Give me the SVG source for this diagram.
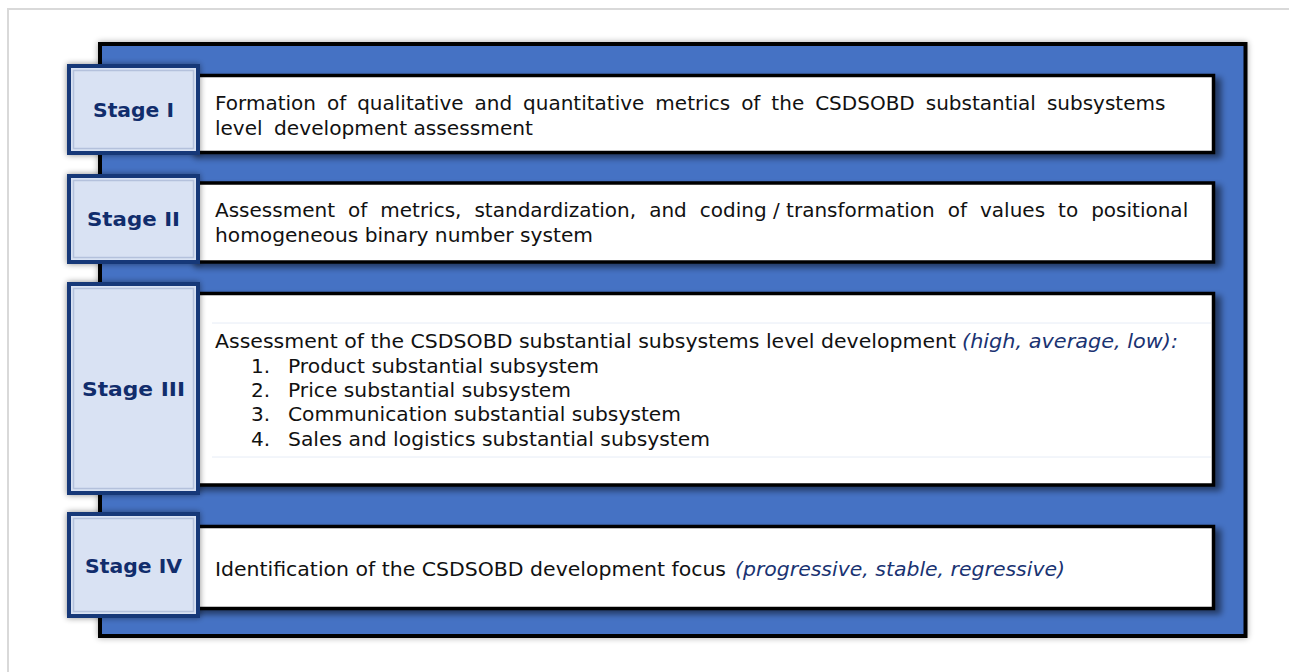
<svg xmlns="http://www.w3.org/2000/svg" width="1289" height="672" viewBox="0 0 1289 672">
  <defs>
    <style>
      .frame { fill: none; stroke: #d9d9d9; stroke-width: 2; }
      .panel { fill: #4472c4; stroke: #000; stroke-width: 4; }
      .card { fill: #fff; stroke: #000; stroke-width: 3.5; }
      .stage { fill: #d9e2f3; stroke: #163878; stroke-width: 4; }
      .stage-inner { fill: none; stroke: #b4c1dc; stroke-width: 1.5; }
      .label { font-family: "DejaVu Sans", Verdana, sans-serif; font-size: 20px; font-weight: bold; fill: #112d6c; text-anchor: middle; }
      .body { font-family: "DejaVu Sans", Verdana, sans-serif; font-size: 20px; fill: #111; }
      .em { font-style: italic; fill: #1a3372; }
      .rule { stroke: #e6ecf6; stroke-width: 1; }
    </style>
    <filter id="glow" x="-5%" y="-5%" width="110%" height="110%">
      <feGaussianBlur in="SourceAlpha" stdDeviation="3"/>
      <feComponentTransfer><feFuncA type="linear" slope="0.35"/></feComponentTransfer>
      <feMerge><feMergeNode/><feMergeNode in="SourceGraphic"/></feMerge>
    </filter>
    <filter id="cardShadow" x="-5%" y="-10%" width="112%" height="130%">
      <feGaussianBlur in="SourceAlpha" stdDeviation="3"/>
      <feOffset dx="6" dy="4" result="s"/>
      <feComponentTransfer><feFuncA type="linear" slope="0.5"/></feComponentTransfer>
      <feMerge><feMergeNode/><feMergeNode in="SourceGraphic"/></feMerge>
    </filter>
    <filter id="stageShadow" x="-20%" y="-20%" width="140%" height="140%">
      <feGaussianBlur in="SourceAlpha" stdDeviation="3"/>
      <feComponentTransfer><feFuncA type="linear" slope="0.45"/></feComponentTransfer>
      <feMerge><feMergeNode/><feMergeNode in="SourceGraphic"/></feMerge>
    </filter>
  </defs>

  <!-- page frame -->
  <rect class="frame" x="8" y="9" width="1300" height="680"/>

  <!-- blue backing panel -->
  <rect id="panel" class="panel" x="100" y="44" width="1145.5" height="592" filter="url(#glow)"/>

  <g id="connectors"/>

  <!-- Stage I -->
  <g id="stage1">
    <rect class="card" x="190" y="75.5" width="1023.5" height="77" filter="url(#cardShadow)"/>
    <text class="body" x="215" y="110" word-spacing="4.6">Formation of qualitative and quantitative metrics of the CSDSOBD substantial subsystems</text>
    <text class="body" y="135"><tspan x="215">level</tspan><tspan x="274" textLength="259" lengthAdjust="spacingAndGlyphs">development assessment</tspan></text>
    <g filter="url(#stageShadow)">
      <rect class="stage" x="69" y="66" width="129" height="87"/>
    </g>
    <rect class="stage-inner" x="73.5" y="70.5" width="120" height="78"/>
    <text class="label" x="133.5" y="117" textLength="81" lengthAdjust="spacingAndGlyphs">Stage I</text>
  </g>

  <!-- Stage II -->
  <g id="stage2">
    <rect class="card" x="190" y="183" width="1023.5" height="79" filter="url(#cardShadow)"/>
    <text class="body" x="215" y="217" word-spacing="6.65">Assessment of metrics, standardization, and <tspan word-spacing="0">coding / transformation</tspan> of values to positional</text>
    <text class="body" x="215" y="242" textLength="378" lengthAdjust="spacingAndGlyphs">homogeneous binary number system</text>
    <g filter="url(#stageShadow)">
      <rect class="stage" x="69" y="176" width="129" height="86"/>
    </g>
    <rect class="stage-inner" x="73.5" y="180.5" width="120" height="77"/>
    <text class="label" x="133.5" y="226" textLength="93" lengthAdjust="spacingAndGlyphs">Stage II</text>
  </g>

  <!-- Stage III -->
  <g id="stage3">
    <rect class="card" x="190" y="293.5" width="1023.5" height="191.5" filter="url(#cardShadow)"/>
    <line class="rule" x1="212" y1="323" x2="1211" y2="323"/>
    <line class="rule" x1="212" y1="457" x2="1211" y2="457"/>
    <text class="body" y="348"><tspan x="215" textLength="741" lengthAdjust="spacingAndGlyphs">Assessment of the CSDSOBD substantial subsystems level development</tspan><tspan class="em" x="962" textLength="216" lengthAdjust="spacingAndGlyphs">(high, average, low):</tspan></text>
    <text class="body" y="373"><tspan x="251">1.</tspan><tspan x="288" textLength="311" lengthAdjust="spacingAndGlyphs">Product substantial subsystem</tspan></text>
    <text class="body" y="397"><tspan x="251">2.</tspan><tspan x="288" textLength="283" lengthAdjust="spacingAndGlyphs">Price substantial subsystem</tspan></text>
    <text class="body" y="421"><tspan x="251">3.</tspan><tspan x="288" textLength="393" lengthAdjust="spacingAndGlyphs">Communication substantial subsystem</tspan></text>
    <text class="body" y="446"><tspan x="251">4.</tspan><tspan x="288" textLength="422" lengthAdjust="spacingAndGlyphs">Sales and logistics substantial subsystem</tspan></text>
    <g filter="url(#stageShadow)">
      <rect class="stage" x="69" y="284" width="129" height="209"/>
    </g>
    <rect class="stage-inner" x="73.5" y="288.5" width="120" height="200"/>
    <text class="label" x="133.5" y="396" textLength="103" lengthAdjust="spacingAndGlyphs">Stage III</text>
  </g>

  <!-- Stage IV -->
  <g id="stage4">
    <rect class="card" x="190" y="526.5" width="1023.5" height="82" filter="url(#cardShadow)"/>
    <text class="body" y="576"><tspan x="215" textLength="511" lengthAdjust="spacingAndGlyphs">Identification of the CSDSOBD development focus</tspan><tspan class="em" x="735" textLength="330" lengthAdjust="spacingAndGlyphs">(progressive, stable, regressive)</tspan></text>
    <g filter="url(#stageShadow)">
      <rect class="stage" x="69" y="514" width="129" height="102"/>
    </g>
    <rect class="stage-inner" x="73.5" y="518.5" width="120" height="93"/>
    <text class="label" x="133.5" y="573" textLength="97" lengthAdjust="spacingAndGlyphs">Stage IV</text>
  </g>
</svg>
